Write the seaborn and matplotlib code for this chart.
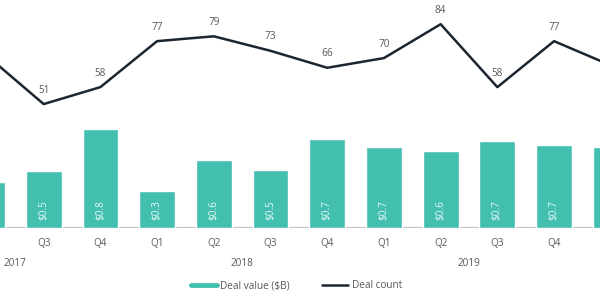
import numpy as np
import pandas as pd
import matplotlib
matplotlib.use("Agg")
import matplotlib.pyplot as plt
import matplotlib.transforms as mtransforms
from matplotlib.lines import Line2D
import seaborn as sns

# ---- data ----
periods = ["2017 Q2", "2017 Q3", "2017 Q4", "2018 Q1", "2018 Q2", "2018 Q3",
           "2018 Q4", "2019 Q1", "2019 Q2", "2019 Q3", "2019 Q4", "2020 Q1"]
quarters = ["Q2", "Q3", "Q4", "Q1", "Q2", "Q3", "Q4", "Q1", "Q2", "Q3", "Q4", "Q1"]
deal_value = [0.37, 0.46, 0.80, 0.30, 0.55, 0.47, 0.72, 0.65, 0.62, 0.70, 0.67, 0.65]
value_labels = ["$0.4", "$0.5", "$0.8", "$0.3", "$0.6", "$0.5", "$0.7", "$0.7", "$0.6", "$0.7", "$0.7", "$0.6"]
deal_count = [71, 51, 58, 77, 79, 73, 66, 70, 84, 58, 77, 67]
years = ["2017", "2018", "2019"]
year_first_index = [-1, 3, 7]   # position of Q1 of each year (Q1 2017 lies off the chart)

TEAL = "#43bfb0"
NAVY = "#1b2631"
GRAY_TXT = "#595959"
FS = 7.2
XLIM = (0.23, 10.81)

sns.set_theme(style="white")
plt.rcParams["font.family"] = ["Open Sans", "DejaVu Sans"]

df = pd.DataFrame({"period": periods, "value": deal_value, "count": deal_count})

fig = plt.figure(figsize=(6.0, 2.96), dpi=100)
ax = fig.add_axes([0.0, 68 / 296, 1.0, 228 / 296])

sns.barplot(data=df, x="period", y="value", color=TEAL, width=0.63,
            saturation=1, ax=ax, zorder=2)
ax.set_ylim(0, 228 / 124)

def visible(i):
    return XLIM[0] + 0.1 < i < XLIM[1] - 0.1

for i, lab in enumerate(value_labels):
    if visible(i):
        ax.annotate(lab, xy=(i, 0), xytext=(0, 5.5), textcoords="offset points",
                    rotation=90, ha="center", va="bottom", fontsize=FS,
                    color="#e6f7f4", zorder=3)

ax.axhline(0, color="#c4c4c8", lw=1.6, zorder=1)

ax2 = ax.twinx()
x_idx = np.arange(len(periods))
sns.lineplot(x=x_idx, y=deal_count, ax=ax2, color=NAVY, lw=1.8, zorder=4)
ax2.set_ylim(-0.2, 94)
for i, c in enumerate(deal_count):
    if visible(i):
        ax2.annotate(str(c), xy=(i, c), xytext=(0, 6), textcoords="offset points",
                     ha="center", va="bottom", fontsize=FS, color=GRAY_TXT)

ax.set_xlabel("")
vis_idx = [i for i in x_idx if visible(i)]
ax.set_xticks(vis_idx)
ax.set_xticklabels([quarters[i] for i in vis_idx], fontsize=FS, color=GRAY_TXT)
ax.tick_params(axis="x", length=0, pad=7)

for a in (ax, ax2):
    for s in a.spines.values():
        s.set_visible(False)
    a.set_yticks([])
    a.set_ylabel("")
    a.grid(False)
    a.set_xlim(*XLIM)

trans = mtransforms.blended_transform_factory(ax.transData, ax.transAxes)
for y, first in zip(years, year_first_index):
    ax.text(first + 1.5, -35 / 228, y, transform=trans, ha="center", va="center",
            fontsize=FS, color=GRAY_TXT)

handles = [Line2D([0], [0], color=TEAL, lw=3.5),
           Line2D([0], [0], color=NAVY, lw=1.8)]
fig.legend(handles, ["Deal value ($B)", "Deal count"], loc="center",
           bbox_to_anchor=(0.494, 10 / 296), ncol=2, frameon=False,
           fontsize=FS, handlelength=2.6, handletextpad=0.35, columnspacing=3.2,
           labelcolor=GRAY_TXT)

fig.savefig("out.png", dpi=100)
